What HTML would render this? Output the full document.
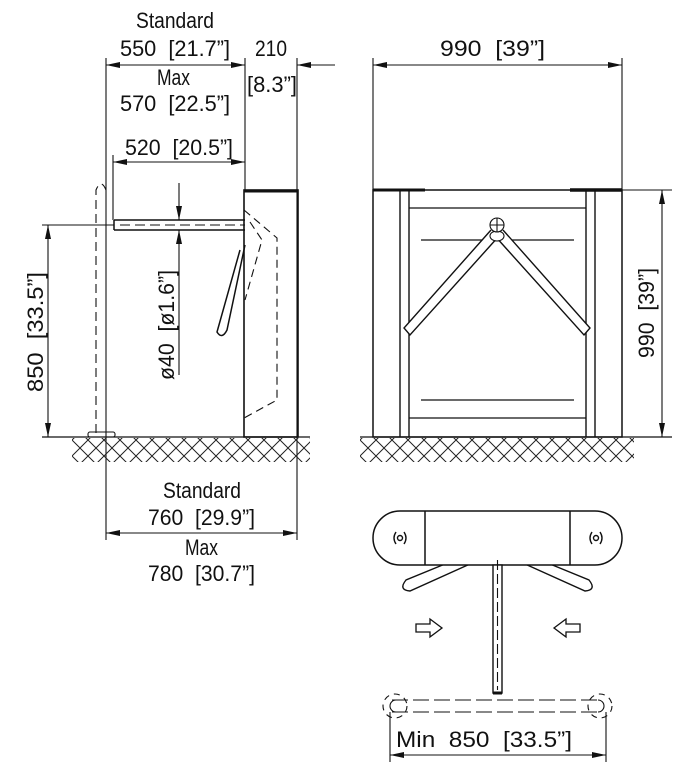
<!DOCTYPE html>
<html><head><meta charset="utf-8"><style>
html,body{margin:0;padding:0;background:#fff}
svg{display:block}
text{font-family:"Liberation Sans",sans-serif;font-size:22px;fill:#111;white-space:pre}
</style></head><body>
<svg width="692" height="777" viewBox="0 0 692 777" xmlns="http://www.w3.org/2000/svg" xml:space="preserve">
<defs>
<marker id="a" viewBox="0 0 14 6" refX="14" refY="3" markerWidth="14" markerHeight="6" markerUnits="userSpaceOnUse" orient="auto-start-reverse"><path d="M0,0L14,3L0,6z" fill="#111"/></marker>
<pattern id="h" width="16" height="16" patternUnits="userSpaceOnUse"><path d="M0,0L16,16M16,0L0,16" stroke="#222" stroke-width="1"/></pattern>
</defs>
<g stroke="#111" fill="none" stroke-width="1.1">
<line x1="106" y1="58" x2="106" y2="540"/>
<line x1="245" y1="58" x2="245" y2="190"/>
<line x1="297" y1="58" x2="297" y2="540"/>
<line x1="106" y1="65" x2="245" y2="65" marker-start="url(#a)" marker-end="url(#a)"/>
<line x1="335" y1="65" x2="297" y2="65" marker-end="url(#a)"/>
<line x1="113" y1="162" x2="245" y2="162" marker-start="url(#a)" marker-end="url(#a)"/>
<line x1="113" y1="155" x2="113" y2="220"/>
<rect x="244" y="190" width="54" height="247" stroke-width="1.6"/>
<line x1="244" y1="191" x2="298" y2="191" stroke-width="3"/>
<path d="M244,210 L277,238 L277,400 L244,418" stroke-dasharray="8,5"/>
<path d="M250,222 L262,240 L245,300" stroke-dasharray="8,5"/>
<path d="M114,220 L245,220 M114,230 L245,230 M114,220 L114,230" stroke-width="1.5"/>
<line x1="120" y1="225" x2="245" y2="225" stroke-dasharray="10,5"/>
<path d="M245,245 L227,330 Q222,340 217,332 L240,250" stroke-width="1.5"/>
<line x1="179" y1="183" x2="179" y2="220" marker-end="url(#a)"/>
<line x1="179" y1="375" x2="179" y2="230" marker-end="url(#a)"/>
<line x1="42" y1="225" x2="114" y2="225"/>
<line x1="48" y1="225" x2="48" y2="437" marker-start="url(#a)" marker-end="url(#a)"/>
<path d="M96,433 L96,190 Q101,178 106,190" stroke-dasharray="9,5"/>
<rect x="88" y="432" width="27" height="5" rx="2"/>
<line x1="42" y1="437" x2="310" y2="437" stroke-width="1.3"/>
<rect x="72" y="438" width="238" height="24" fill="url(#h)" stroke="none"/>
<line x1="106" y1="533" x2="297" y2="533" marker-start="url(#a)" marker-end="url(#a)"/>

<line x1="373" y1="58" x2="373" y2="190"/>
<line x1="622" y1="58" x2="622" y2="190"/>
<line x1="373" y1="65" x2="622" y2="65" marker-start="url(#a)" marker-end="url(#a)"/>
<rect x="373" y="190" width="249" height="247" stroke-width="1.5"/>
<line x1="373" y1="190" x2="425" y2="190" stroke-width="3"/>
<line x1="570" y1="190" x2="622" y2="190" stroke-width="3.5"/>
<path d="M400,190 V437 M409,190 V437 M586,190 V437 M595,190 V437" stroke-width="1.4"/>
<path d="M409,208 H586 M409,418 H586" stroke-width="1.3"/>
<path d="M421,240 H574 M421,400 H574" stroke-width="1.3"/>
<path d="M491,230 L404,328 L410,335 L499,236" fill="#fff" stroke-width="1.4"/>
<path d="M503,230 L590,328 L584,335 L495,236" fill="#fff" stroke-width="1.4"/>
<ellipse cx="497" cy="236" rx="7" ry="5" fill="#fff"/>
<circle cx="497" cy="225" r="7" fill="#fff"/>
<path d="M490,225 H504 M497,218 V232"/>
<line x1="622" y1="190" x2="672" y2="190"/>
<line x1="622" y1="437" x2="672" y2="437"/>
<line x1="662" y1="190" x2="662" y2="437" marker-start="url(#a)" marker-end="url(#a)"/>
<line x1="360" y1="437" x2="672" y2="437" stroke-width="1.3"/>
<rect x="360" y="438" width="274" height="24" fill="url(#h)" stroke="none"/>

<path d="M445,564 L406,580 Q398,590 410,591 L470,564" fill="#fff" stroke-width="1.4"/>
<path d="M550,564 L589,580 Q597,590 585,591 L525,564" fill="#fff" stroke-width="1.4"/>
<path d="M425,511 H400 A27,27 0 0 0 400,565 H425 Z M425,511 H570 V565 H425 M570,511 H595 A27,27 0 0 1 595,565 H570" fill="#fff" stroke-width="1.5"/>
<rect x="493" y="565" width="9" height="128" fill="#fff" stroke-width="1.4"/>
<line x1="497.5" y1="560" x2="497.5" y2="690" stroke-dasharray="10,4"/>
<line x1="493" y1="693" x2="502" y2="693" stroke-width="3"/>
<g stroke-width="1.4">
<circle cx="400" cy="538" r="2.5"/>
<path d="M396,532 Q392,538 396,544 M404,532 Q408,538 404,544"/>
<circle cx="596" cy="538" r="2.5"/>
<path d="M592,532 Q588,538 592,544 M600,532 Q604,538 600,544"/>
</g>
<path d="M416,624 H430 V619 L442,628 L430,637 V632 H416 Z" stroke-width="1.3"/>
<path d="M580,624 H566 V619 L554,628 L566,637 V632 H580 Z" stroke-width="1.3"/>
<path d="M392,700 H602 M392,712 H602" stroke-dasharray="16,5"/>
<path d="M396,700 A6,6 0 0 0 396,712 M598,700 A6,6 0 0 1 598,712"/>
<circle cx="395" cy="706" r="12" stroke-dasharray="6,5"/>
<circle cx="600" cy="706" r="12" stroke-dasharray="6,5"/>
<line x1="390" y1="712" x2="390" y2="762"/>
<line x1="606" y1="712" x2="606" y2="762"/>
<line x1="390" y1="755" x2="606" y2="755" marker-start="url(#a)" marker-end="url(#a)"/>
</g>
<g>
<text x="136" y="28" textLength="78" lengthAdjust="spacingAndGlyphs">Standard</text>
<text x="120" y="56" textLength="110" lengthAdjust="spacingAndGlyphs">550  [21.7”]</text>
<text x="255" y="56" textLength="32" lengthAdjust="spacingAndGlyphs">210</text>
<text x="247" y="92" textLength="50" lengthAdjust="spacingAndGlyphs">[8.3”]</text>
<text x="157" y="85" textLength="33" lengthAdjust="spacingAndGlyphs">Max</text>
<text x="120" y="111" textLength="110" lengthAdjust="spacingAndGlyphs">570  [22.5”]</text>
<text x="125" y="155" textLength="108" lengthAdjust="spacingAndGlyphs">520  [20.5”]</text>
<text transform="translate(43,392) rotate(-90)" textLength="120" lengthAdjust="spacingAndGlyphs">850  [33.5”]</text>
<text transform="translate(174,380) rotate(-90)" textLength="110" lengthAdjust="spacingAndGlyphs">ø40  [ø1.6”]</text>
<text x="163" y="498" textLength="78" lengthAdjust="spacingAndGlyphs">Standard</text>
<text x="148" y="525" textLength="107" lengthAdjust="spacingAndGlyphs">760  [29.9”]</text>
<text x="185" y="555" textLength="33" lengthAdjust="spacingAndGlyphs">Max</text>
<text x="148" y="581" textLength="107" lengthAdjust="spacingAndGlyphs">780  [30.7”]</text>
<text x="440" y="56" textLength="105" lengthAdjust="spacingAndGlyphs">990  [39”]</text>
<text transform="translate(654,358) rotate(-90)" textLength="90" lengthAdjust="spacingAndGlyphs">990  [39”]</text>
<text x="396" y="747" textLength="176" lengthAdjust="spacingAndGlyphs">Min  850  [33.5”]</text>
</g>
</svg>
</body></html>
